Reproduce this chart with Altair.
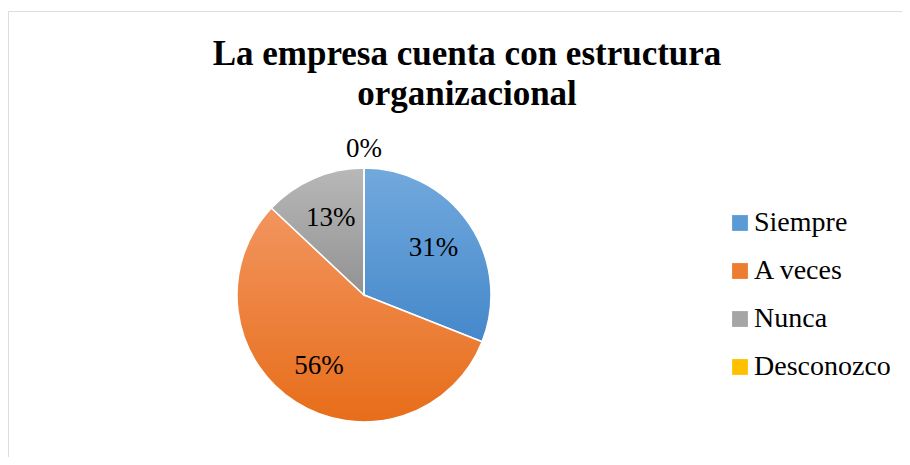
import altair as alt
import pandas as pd

categories = ["Siempre", "A veces", "Nunca", "Desconozco"]
values = [31, 56, 13, 0]
labels = ["31%", "56%", "13%", "0%"]
colors = ["#5B9BD5", "#ED7D31", "#A5A5A5", "#FFC000"]
grad_top = ["#72a9dd", "#f2955f", "#b8b8b8", "#ffcd33"]
grad_bottom = ["#4588cb", "#e76d19", "#929292", "#f0b400"]
title_lines = ["La empresa cuenta con estructura", "organizacional"]

df = pd.DataFrame({"cat": categories, "value": values, "label": labels,
                   "order": list(range(len(categories)))})

CX, CY, R = 356, 287, 127
SERIF = "Liberation Serif"

base = (
    alt.Chart(df)
    .transform_window(end="sum(value)", sort=[alt.SortField("order")], frame=[None, 0])
    .transform_calculate(start="datum.end - datum.value")
    .transform_calculate(mid="(datum.start + datum.end) / 2")
)

theta = alt.Theta("start:Q", scale=alt.Scale(domain=[0, 100], range=[0, 6.283185307179586]))

pie = base.mark_arc(radius=R, stroke="white", strokeWidth=1.5).encode(
    x=alt.value(CX), y=alt.value(CY),
    theta=theta, theta2=alt.Theta2("end:Q"),
    color=alt.Color(
        "cat:N",
        scale=alt.Scale(domain=categories, range=colors),
        legend=alt.Legend(
            orient="none", legendX=718, legendY=201, title=None,
            symbolType="square", symbolSize=250, symbolStrokeWidth=0,
            labelFont=SERIF, labelFontSize=28, labelColor="black",
            labelOffset=0, rowPadding=20, padding=0,
        ),
    ),
)

layers = []
for cat, top, bottom in zip(categories, grad_top, grad_bottom):
    grad = {
        "gradient": "linear", "x1": 0, "y1": 0, "x2": 0, "y2": 1,
        "stops": [{"offset": 0, "color": top}, {"offset": 1, "color": bottom}],
    }
    layers.append(
        base.transform_filter(alt.datum.cat == cat)
        .mark_arc(radius=R, stroke="white", strokeWidth=1.5, fill=grad)
        .encode(x=alt.value(CX), y=alt.value(CY), theta=theta, theta2=alt.Theta2("end:Q"))
    )

text_in = base.transform_filter("datum.value > 0").mark_text(
    font=SERIF, fontSize=27, color="black", radius=84
).encode(x=alt.value(CX), y=alt.value(CY), theta=alt.Theta("mid:Q"), text="label:N")

text_out = base.transform_filter("datum.value == 0").mark_text(
    font=SERIF, fontSize=27, color="black", radius=146
).encode(x=alt.value(CX), y=alt.value(CY), theta=alt.Theta("mid:Q"), text="label:N")

one = pd.DataFrame({"t": ["\n".join(title_lines)]})
title = alt.Chart(one).mark_text(
    font=SERIF, fontSize=35, fontWeight="bold", color="black",
    align="center", baseline="alphabetic", lineBreak="\n", lineHeight=40,
).encode(x=alt.value(459), y=alt.value(57), text="t:N")

frame = alt.Chart(one).mark_rect(fill="white", fillOpacity=0, stroke="#d9dde4", strokeWidth=1).encode(
    x=alt.value(0.5), x2=alt.value(2000), y=alt.value(3.5), y2=alt.value(2000)
)

chart = alt.layer(frame, pie, *layers, text_in, text_out, title).properties(
    width=894, height=449,
    autosize=alt.AutoSizeParams(type="none"),
    padding=0,
).configure_view(strokeWidth=0)

chart.save("out.html", embed_options={"renderer": "svg", "actions": False})
